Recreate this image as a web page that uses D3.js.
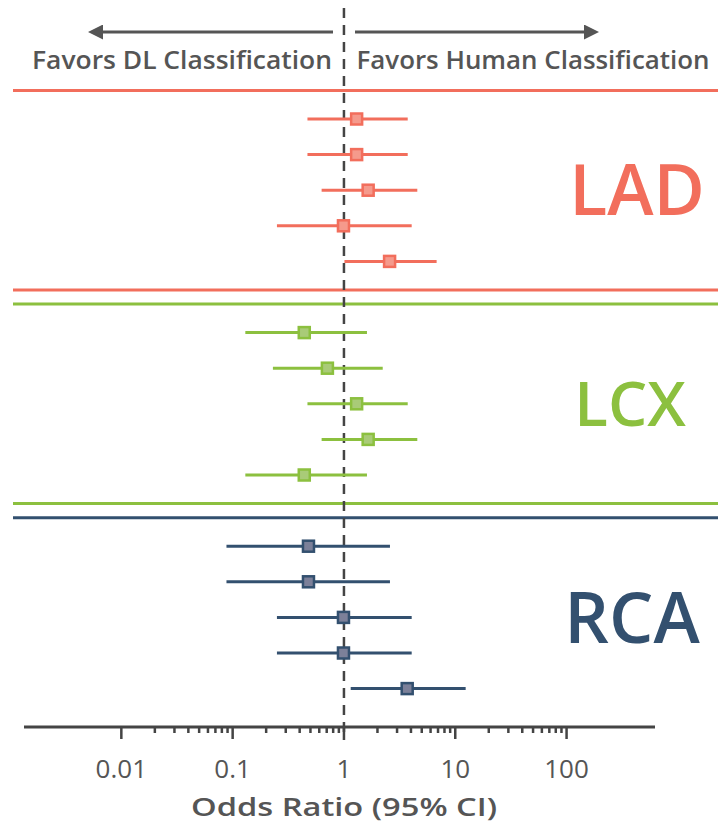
<!DOCTYPE html>
<html lang="en">
<head>
<meta charset="UTF-8">
<title>Forest plot</title>
<style>
  * { margin: 0; padding: 0; }
  body { background: #fff; }
  svg { display: block; font-family: "Open Sans", sans-serif; }
</style>
</head>
<body>
<div id="chart"></div>
<script src="https://cdn.jsdelivr.net/npm/d3@7/dist/d3.min.js"></script>
<script>
// data
var groups = ["LAD", "LCX", "RCA"];
var groupColors = ["#f26e5c", "#8cc03f", "#33506f"];
var groupFills = ["#f59a8c", "#a9cb78", "#7c8099"];
var rowGroup = [0,0,0,0,0, 1,1,1,1,1, 2,2,2,2,2];
var rowIndex = [0,1,2,3,4, 0,1,2,3,4, 0,1,2,3,4];
var oddsRatio = [1.30, 1.30, 1.65, 0.99, 2.57,  0.44, 0.71, 1.30, 1.65, 0.44,  0.48, 0.48, 0.99, 0.99, 3.70];
var ciLow     = [0.47, 0.47, 0.63, 0.25, 1.01,  0.13, 0.23, 0.47, 0.63, 0.13,  0.088, 0.088, 0.25, 0.25, 1.15];
var ciHigh    = [3.74, 3.74, 4.56, 4.06, 6.80,  1.61, 2.23, 3.74, 4.56, 1.61,  2.59, 2.59, 4.06, 4.06, 12.4];
var majorTicks = [0.01, 0.1, 1, 10, 100];
var tickLabels = ["0.01", "0.1", "1", "10", "100"];

var width = 718, height = 829;
var svg = d3.select("#chart").append("svg")
  .attr("width", width).attr("height", height);

var x = d3.scaleLog().domain([0.001335, 623]).range([24, 655]);
// slot position: 6 slots per group
var y = d3.scaleLinear().domain([0, 16]).range([119, 688.6]);
function pos(i) { return rowGroup[i] * 6 + rowIndex[i]; }

var ink = "#555";

// header arrows + text
var defs = svg.append("defs");
defs.append("marker").attr("id", "arr")
  .attr("viewBox", "0 0 10 10").attr("refX", 2).attr("refY", 5)
  .attr("markerWidth", 6).attr("markerHeight", 5)
  .attr("orient", "auto-start-reverse")
  .append("path").attr("d", "M0,0 L10,5 L0,10 z").attr("fill", ink);

svg.append("line").attr("x1", 333).attr("x2", 100).attr("y1", 32).attr("y2", 32)
  .attr("stroke", ink).attr("stroke-width", 3).attr("marker-end", "url(#arr)");
svg.append("line").attr("x1", 355).attr("x2", 587).attr("y1", 32).attr("y2", 32)
  .attr("stroke", ink).attr("stroke-width", 3).attr("marker-end", "url(#arr)");

svg.append("text").attr("x", 182).attr("y", 69).attr("text-anchor", "middle")
  .attr("font-size", 26).attr("font-weight", 600).attr("fill", ink)
  .attr("textLength", 300).attr("lengthAdjust", "spacingAndGlyphs")
  .text("Favors DL Classification");
svg.append("text").attr("x", 533).attr("y", 69).attr("text-anchor", "middle")
  .attr("font-size", 26).attr("font-weight", 600).attr("fill", ink)
  .attr("textLength", 353).attr("lengthAdjust", "spacingAndGlyphs")
  .text("Favors Human Classification");

// group separators
groups.forEach(function (g, gi) {
  var tops = [gi * 6 - 0.8];
  if (gi < 2) tops.push(gi * 6 + 4.8);
  tops.forEach(function (p) {
    svg.append("line").attr("x1", 13).attr("x2", width)
      .attr("y1", y(p)).attr("y2", y(p))
      .attr("stroke", groupColors[gi]).attr("stroke-width", 3);
  });
});

// group labels
var labelPos = [2, 8, 14];
var labelSize = [70, 62, 70];
var labelX = [637, 630, 632];
svg.selectAll(".glabel").data(groups).enter().append("text")
  .attr("class", "glabel")
  .attr("x", function (d, i) { return labelX[i]; })
  .attr("y", function (d, i) { return y(labelPos[i]); })
  .attr("dy", "0.36em")
  .attr("text-anchor", "middle")
  .attr("font-size", function (d, i) { return labelSize[i]; })
  .attr("font-weight", 600)
  .attr("fill", function (d, i) { return groupColors[i]; })
  .text(function (d) { return d; });

// axis
var axisY = 727;
svg.append("line").attr("x1", 24).attr("x2", 655).attr("y1", axisY).attr("y2", axisY)
  .attr("stroke", "#444").attr("stroke-width", 3);

var minorTicks = [];
[0.01, 0.1, 1, 10].forEach(function (d) {
  for (var k = 2; k <= 9; k++) minorTicks.push(d * k);
});
svg.selectAll(".minor").data(minorTicks).enter().append("line")
  .attr("x1", function (d) { return x(d); }).attr("x2", function (d) { return x(d); })
  .attr("y1", axisY).attr("y2", axisY + 6)
  .attr("stroke", "#444").attr("stroke-width", 2.5);
svg.selectAll(".major").data(majorTicks).enter().append("line")
  .attr("x1", function (d) { return x(d); }).attr("x2", function (d) { return x(d); })
  .attr("y1", axisY).attr("y2", axisY + 12)
  .attr("stroke", "#444").attr("stroke-width", 2.5);
svg.selectAll(".tlabel").data(majorTicks).enter().append("text")
  .attr("x", function (d) { return x(d); }).attr("y", 778)
  .attr("text-anchor", "middle").attr("font-size", 26).attr("fill", ink)
  .text(function (d, i) { return tickLabels[i]; });
svg.append("text").attr("x", 344).attr("y", 816).attr("text-anchor", "middle")
  .attr("font-size", 26).attr("font-weight", 600).attr("fill", ink)
  .attr("textLength", 306).attr("lengthAdjust", "spacingAndGlyphs")
  .text("Odds Ratio (95% CI)");

// reference line at OR = 1
svg.append("line").attr("x1", x(1)).attr("x2", x(1)).attr("y1", 8).attr("y2", 740)
  .attr("stroke", "#444").attr("stroke-width", 2.5).attr("stroke-dasharray", "10,7");

// CI whiskers + points
var rows = d3.range(oddsRatio.length);
svg.selectAll(".ci").data(rows).enter().append("line")
  .attr("x1", function (i) { return x(ciLow[i]); })
  .attr("x2", function (i) { return x(ciHigh[i]); })
  .attr("y1", function (i) { return y(pos(i)); })
  .attr("y2", function (i) { return y(pos(i)); })
  .attr("stroke", function (i) { return groupColors[rowGroup[i]]; })
  .attr("stroke-width", 3);
var s = 11;
svg.selectAll(".pt").data(rows).enter().append("rect")
  .attr("x", function (i) { return x(oddsRatio[i]) - s / 2; })
  .attr("y", function (i) { return y(pos(i)) - s / 2; })
  .attr("width", s).attr("height", s)
  .attr("fill", function (i) { return groupFills[rowGroup[i]]; })
  .attr("stroke", function (i) { return groupColors[rowGroup[i]]; })
  .attr("stroke-width", 2.5);
</script>
</body>
</html>
